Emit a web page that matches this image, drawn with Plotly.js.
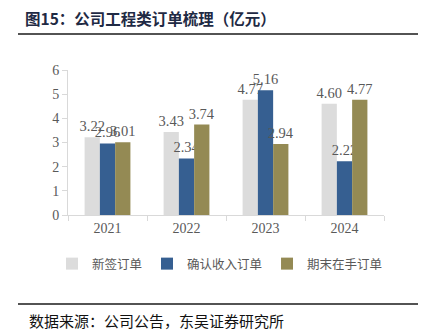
<!DOCTYPE html>
<html>
<head>
<meta charset="utf-8">
<script src="https://cdn.plot.ly/plotly-3.0.1.min.js"></script>
<style>html,body{margin:0;padding:0;background:#fff;}#chart{width:422px;height:334px;}</style>
</head>
<body>
<div id="chart"></div>
<script>
const years = ["2021", "2022", "2023", "2024"];
const newOrders = [3.22, 3.43, 4.77, 4.60];
const recognized = [2.96, 2.34, 5.16, 2.22];
const backlog = [3.01, 3.74, 2.94, 4.77];
const seriesNames = ["新签订单", "确认收入订单", "期末在手订单"];
const colors = ["#DCDCDC", "#365F91", "#948A54"];

const serif = "'Liberation Serif', 'Times New Roman', 'Noto Sans CJK SC', serif";
const cjk = "'Noto Sans CJK SC', 'Liberation Serif', serif";

const L = 68, R = 384, T = 70, B = 215;
const px = x => (x - L) / (R - L);
const py = y => (B - y) / (B - T);

const mk = (vals, i) => ({
  type: "bar", x: years, y: vals, name: seriesNames[i],
  marker: {color: colors[i], line: {width: 0}},
  text: vals.map(v => v.toFixed(2)), textposition: "outside",
  constraintext: "none",
  textfont: {family: serif, size: 14.5, color: "#595959"},
  cliponaxis: false
});

const data = [mk(newOrders, 0), mk(recognized, 1), mk(backlog, 2)];

const layout = {
  width: 422, height: 334,
  margin: {l: L, r: 422 - R, t: T, b: 334 - B, pad: 0, autoexpand: false},
  paper_bgcolor: "#fff", plot_bgcolor: "#fff",
  barmode: "group", bargap: 0.42, bargroupgap: 0,
  showlegend: true,
  legend: {orientation: "h", x: px(52), xanchor: "left",
    y: py(264), yanchor: "middle", itemwidth: 30,
    font: {family: cjk, size: 12.5, color: "#595959"}, traceorder: "normal"},
  xaxis: {type: "category", showline: true, linecolor: "#D9D9D9", linewidth: 1,
    ticks: "outside", tickson: "boundaries", ticklen: 5, tickcolor: "#D9D9D9",
    tickfont: {family: serif, size: 14, color: "#595959"}, showgrid: false, zeroline: false},
  yaxis: {range: [0, 6], dtick: 1, showline: true, linecolor: "#D9D9D9", linewidth: 1,
    ticks: "outside", ticklen: 5, tickcolor: "#D9D9D9",
    tickfont: {family: serif, size: 14, color: "#595959"}, showgrid: false, zeroline: false},
  shapes: [
    {type: "line", xref: "paper", yref: "paper", x0: px(18), x1: px(418), y0: py(34), y1: py(34),
      line: {color: "#1a1a1a", width: 1.5}},
    {type: "line", xref: "paper", yref: "paper", x0: px(18), x1: px(418), y0: py(304), y1: py(304),
      line: {color: "#1a1a1a", width: 1.5}}
  ],
  annotations: [
    {xref: "paper", yref: "paper", x: px(23), y: py(18), xanchor: "left", yanchor: "middle",
      showarrow: false, text: "<b>图15：公司工程类订单梳理（亿元）</b>",
      font: {family: cjk, size: 15.5, color: "#1F2A44"}},
    {xref: "paper", yref: "paper", x: px(27), y: py(320), xanchor: "left", yanchor: "middle",
      showarrow: false, text: "数据来源：公司公告，东吴证券研究所",
      font: {family: cjk, size: 15, color: "#111"}}
  ]
};

Plotly.newPlot("chart", data, layout, {displayModeBar: false, staticPlot: true});
</script>
</body>
</html>
